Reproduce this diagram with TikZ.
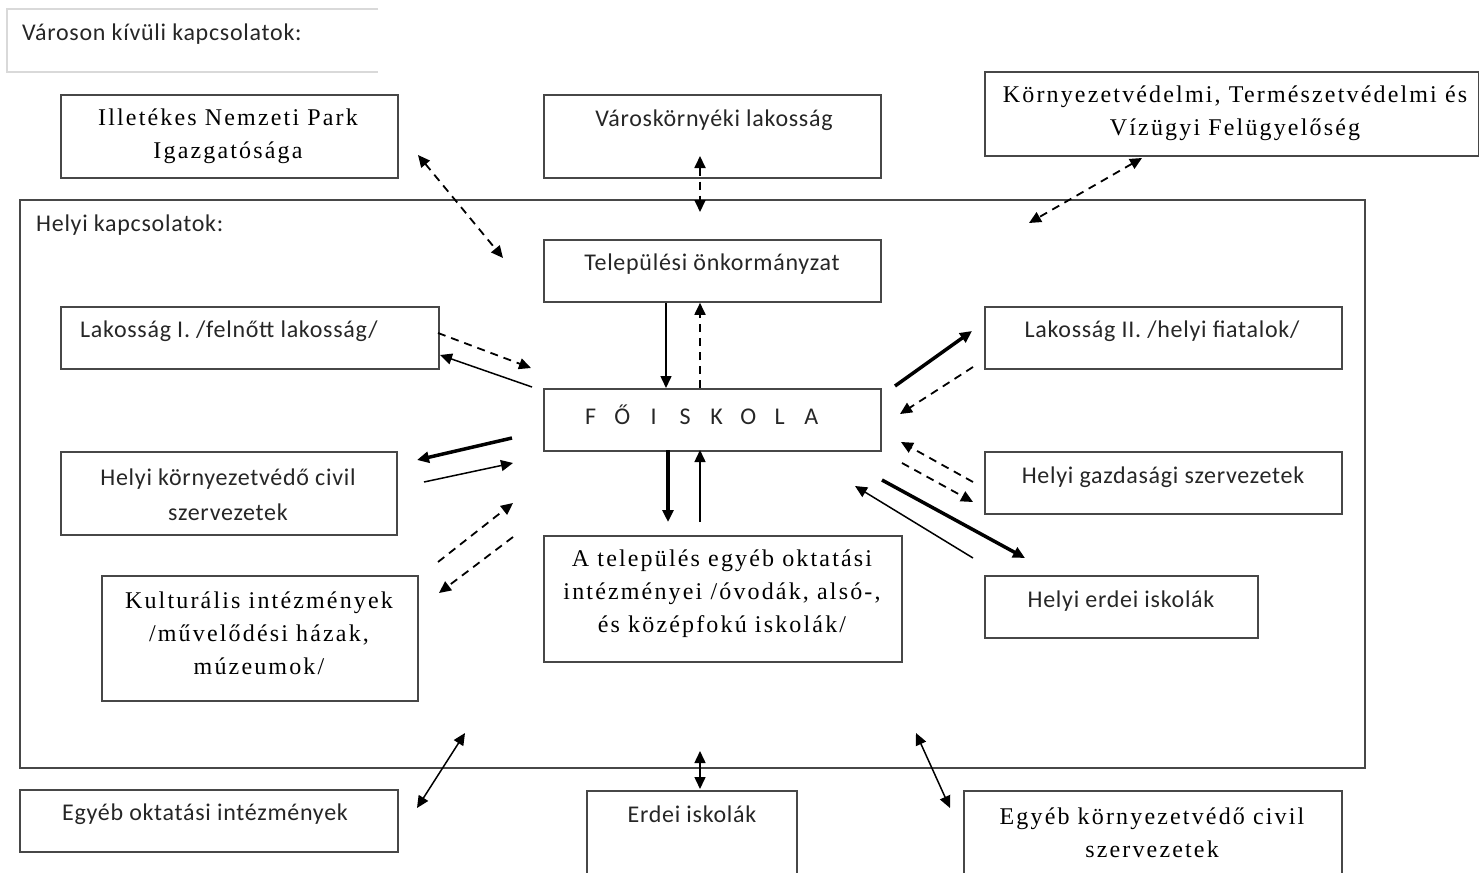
\documentclass[tikz,border=0pt]{standalone}
\usepackage{fontspec}
\setmainfont{Liberation Serif}
\newfontfamily\sansf[LetterSpace=3]{Carlito}
\newfontfamily\serff[LetterSpace=9]{Liberation Serif}
\usetikzlibrary{arrows.meta}
\begin{document}
\begin{tikzpicture}[x=1pt,y=-1pt,
  box/.style={draw=black!72,line width=1.8pt,rectangle,inner sep=0pt,anchor=north west},
  st/.style={font=\fontsize{24}{35}\selectfont\sansf,align=center,text=black!85,inner sep=0pt},
  sr/.style={font=\fontsize{24}{33}\selectfont\serff,align=center,inner sep=0pt},
  tip/.style={-{Triangle[length=12pt,width=11pt]}},
  dtip/.style={{Triangle[length=12pt,width=11pt]}-{Triangle[length=12pt,width=11pt]}},
  thin/.style={line width=1.5pt},
  thick2/.style={line width=3.5pt},
  dsh/.style={line width=1.8pt,dash pattern=on 8pt off 6pt}]
\useasboundingbox (0,0) rectangle (1479,872);
% outer label frame
\draw[black!15,line width=1.5pt] (378,9) -- (7,9) -- (7,72) -- (378,72);
\node[st,anchor=west] (vk) at (22,34) {Városon kívüli kapcsolatok:};
% big local box
\node[box,minimum width=1345,minimum height=568] (helyi) at (19,199) {};
\node[st,anchor=west] (helyiT) at (36,225) {Helyi kapcsolatok:};
% outer boxes
\node[box,minimum width=337,minimum height=83] (park) at (60,94) {};
\node[sr] at (228,136) {Illetékes Nemzeti Park\\Igazgatósága};
\node[box,minimum width=337,minimum height=83] (varos) at (543,94) {};
\node[st] at (714,120) {Városkörnyéki lakosság};
\node[box,minimum width=494,minimum height=84] (ktvf) at (984,71) {};
\node[sr] at (1235,113) {Környezetvédelmi, Természetvédelmi és\\Vízügyi Felügyelőség};
% inner boxes
\node[box,minimum width=337,minimum height=62] (onk) at (543,239) {};
\node[st] at (712,264) {Települési önkormányzat};
\node[box,minimum width=378,minimum height=62] (lak1) at (60,306) {};
\node[st] at (229,331) {Lakosság I. /felnőtt lakosság/};
\node[box,minimum width=337,minimum height=62] (fo) at (543,388) {};
\node[st] at (701,415) {\makebox[31.5pt]{F}\makebox[31.5pt]{Ő}\makebox[31.5pt]{I}\makebox[31.5pt]{S}\makebox[31.5pt]{K}\makebox[31.5pt]{O}\makebox[31.5pt]{L}\makebox[31.5pt]{A}};
\node[box,minimum width=357,minimum height=62] (lak2) at (984,306) {};
\node[st] at (1162,331) {Lakosság II. /helyi fiatalok/};
\node[box,minimum width=336,minimum height=83] (civil) at (60,451) {};
\node[st] at (228,494.5) {Helyi környezetvédő civil\\szervezetek};
\node[box,minimum width=357,minimum height=62] (gazd) at (984,451) {};
\node[st] at (1163,477) {Helyi gazdasági szervezetek};
\node[box,minimum width=358,minimum height=126] (okt) at (543,535) {};
\node[sr] at (722,594) {A település egyéb oktatási\\intézményei /óvodák, alsó-,\\és középfokú iskolák/};
\node[box,minimum width=316,minimum height=125] (kult) at (101,575) {};
\node[sr] at (259,633.5) {Kulturális intézmények\\/művelődési házak,\\múzeumok/};
\node[box,minimum width=273,minimum height=62] (herdei) at (984,575) {};
\node[st] at (1121,601) {Helyi erdei iskolák};
% bottom boxes
\node[box,minimum width=378,minimum height=62] (eokt) at (19,789) {};
\node[st] at (205,814) {Egyéb oktatási intézmények};
\node[box,minimum width=210,minimum height=90] (erdei) at (586,790) {};
\node[st] at (692,814) {Erdei iskolák};
\node[box,minimum width=378,minimum height=90] (ecivil) at (963,790) {};
\node[sr] at (1152,832.5) {Egyéb környezetvédő civil\\szervezetek};
% connector end points
\coordinate (p1) at (418,155); \coordinate (p2) at (503,258);
\coordinate (v1) at (700,156); \coordinate (v2) at (700,212);
\coordinate (k1) at (1142,158); \coordinate (k2) at (1029,223);
\coordinate (l1a) at (438,333); \coordinate (l1b) at (531,368);
\coordinate (l1c) at (532,387); \coordinate (l1d) at (440,355);
\coordinate (l2a) at (895,386); \coordinate (l2b) at (972,331);
\coordinate (l2c) at (973,367); \coordinate (l2d) at (900,414);
\coordinate (ga) at (973,482); \coordinate (gb) at (901,442);
\coordinate (gc) at (902,463); \coordinate (gd) at (973,502);
\coordinate (ha) at (882,480); \coordinate (hb) at (1025,558);
\coordinate (hc) at (973,558); \coordinate (hd) at (855,486);
\coordinate (ca) at (512,438); \coordinate (cb) at (417,460);
\coordinate (cc) at (424,482); \coordinate (cd) at (513,463);
\coordinate (ka) at (438,562); \coordinate (kb) at (513,503);
\coordinate (kc) at (513,537); \coordinate (kd) at (439,593);
\coordinate (oa) at (668,450); \coordinate (ob) at (668,522);
\coordinate (oc) at (700,522); \coordinate (od) at (700,450);
\coordinate (b1) at (417,808); \coordinate (b2) at (465,733);
\coordinate (b3) at (700,751); \coordinate (b4) at (700,789);
\coordinate (b5) at (916,733); \coordinate (b6) at (950,808);
% connectors
\draw[dsh,dtip] (p1) -- (p2);
\draw[dsh,dtip] (v1) -- (v2);
\draw[dsh,dtip] (k1) -- (k2);
\draw[thin,tip] (onk.south -| 666,0) -- (fo.north -| 666,0);
\draw[dsh,tip] (fo.north -| 700,0) -- (onk.south -| 700,0);
\draw[dsh,tip] (l1a) -- (l1b);
\draw[thin,tip] (l1c) -- (l1d);
\draw[thick2,tip] (l2a) -- (l2b);
\draw[dsh,tip] (l2c) -- (l2d);
\draw[dsh,tip] (ga) -- (gb);
\draw[dsh,tip] (gc) -- (gd);
\draw[thick2,tip] (ha) -- (hb);
\draw[thin,tip] (hc) -- (hd);
\draw[thick2,tip] (ca) -- (cb);
\draw[thin,tip] (cc) -- (cd);
\draw[dsh,tip] (ka) -- (kb);
\draw[dsh,tip] (kc) -- (kd);
\draw[thick2,tip] (oa) -- (ob);
\draw[thin,tip] (oc) -- (od);
\draw[thin,dtip] (b1) -- (b2);
\draw[thin,dtip] (b3) -- (b4);
\draw[thin,dtip] (b5) -- (b6);
\end{tikzpicture}
\end{document}
